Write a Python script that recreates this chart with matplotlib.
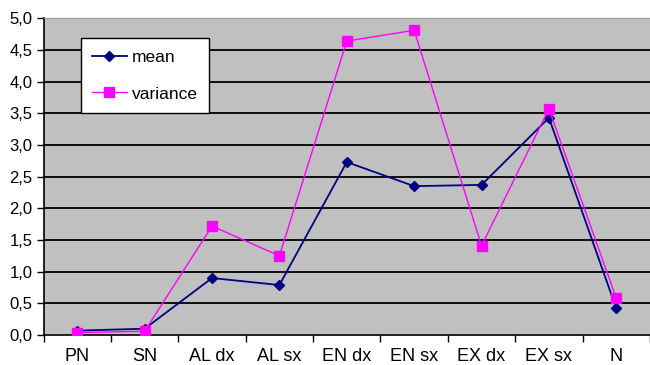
import numpy as np
import matplotlib
matplotlib.use("Agg")
import matplotlib.pyplot as plt

# scores per area
categorie = ["PN", "SN", "AL dx", "AL sx", "EN dx", "EN sx", "EX dx", "EX sx", "N"]
media = [0.07, 0.10, 0.90, 0.79, 2.73, 2.35, 2.37, 3.43, 0.42]
varianza = [0.04, 0.06, 1.72, 1.25, 4.64, 4.81, 1.41, 3.57, 0.58]
yticks = np.arange(0, 5.01, 0.5)

plt.rcParams['font.family'] = ['Liberation Sans', 'DejaVu Sans']

fig = plt.figure(figsize=(6.5, 3.65), dpi=100)
ax = fig.add_axes([0.067, 0.082, 0.933, 0.868])
ax.set_facecolor("#C0C0C0")

x = np.arange(len(categorie))
ax.plot(x, media, color="#000080", lw=1.3, marker="D", markersize=5.5,
        label="mean", zorder=3)
ax.plot(x, varianza, color="#FF00FF", lw=1.0, marker="s", markersize=7,
        label="variance", zorder=4)

ax.set_xlim(-0.5, len(categorie) - 0.5)
ax.set_ylim(0, 5)
ax.set_yticks(yticks)
ax.set_yticklabels([f"{v:.1f}".replace(".", ",") for v in yticks], fontsize=12)
for v in yticks[1:]:
    ax.axhline(v, color="black", lw=1.3, zorder=1)

# category labels centred, ticks on the boundaries
ax.set_xticks(x)
ax.set_xticklabels(categorie, fontsize=13)
ax.tick_params(axis="x", length=0, pad=9)
ax.set_xticks(np.arange(-0.5, len(categorie)), minor=True)
ax.tick_params(axis="x", which="minor", length=5, width=1, direction="out")
ax.tick_params(axis="y", length=5, width=1, direction="out", pad=3)

for s in ["left", "bottom"]:
    ax.spines[s].set_color("black")
    ax.spines[s].set_linewidth(1.2)
ax.spines["top"].set_color("#999999")
ax.spines["right"].set_visible(False)

leg = ax.legend(loc="upper left", bbox_to_anchor=(0.061, 0.937), borderaxespad=0,
                fontsize=12.5, labelspacing=1.25, handlelength=2.0, handletextpad=0.3,
                borderpad=0.65, fancybox=False, framealpha=1, edgecolor="black")
leg.get_frame().set_linewidth(1.0)

fig.savefig("out.png", dpi=100)
